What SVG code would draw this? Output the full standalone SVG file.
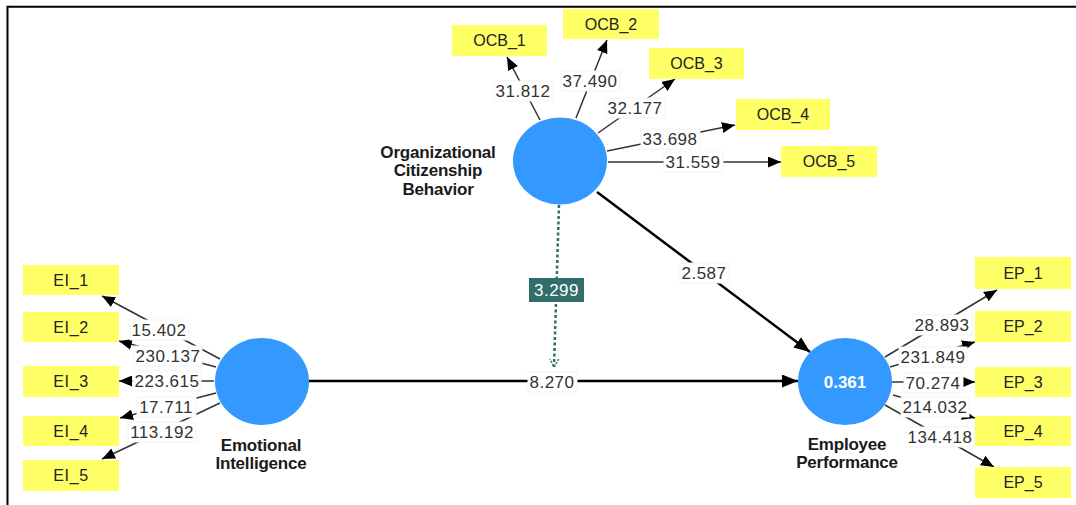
<svg xmlns="http://www.w3.org/2000/svg" width="1076" height="505" viewBox="0 0 1076 505">
<style>
.box{fill:#ffff66}
.btxt{font-family:"Liberation Sans",Arial,sans-serif;font-size:16px;fill:#222;text-anchor:middle}
.lat{fill:#3399ff}
.ltxt{font-family:"Liberation Sans",Arial,sans-serif;font-size:17px;font-weight:bold;fill:#1a1a1a;text-anchor:middle;letter-spacing:-0.2px}
.ind{stroke:#333;stroke-width:1.5;fill:none;marker-end:url(#a1)}
.str{stroke:#000;stroke-width:2.5;fill:none;marker-end:url(#a2)}
.lbg{fill:#fff;stroke:#f3f3f3;stroke-width:1}
.num{font-family:"Liberation Sans",Arial,sans-serif;font-size:17px;fill:#333;text-anchor:middle;letter-spacing:0.5px}
</style>
<defs>
<marker id="a1" markerUnits="userSpaceOnUse" markerWidth="13" markerHeight="11" refX="13" refY="5.5" orient="auto"><path d="M0,0 L13,5.5 L0,11 z" fill="#000"/></marker>
<marker id="a2" markerUnits="userSpaceOnUse" markerWidth="16" markerHeight="13" refX="16" refY="6.5" orient="auto"><path d="M0,0 L16,6.5 L0,13 z" fill="#000"/></marker>
<marker id="a3" markerUnits="userSpaceOnUse" markerWidth="12" markerHeight="12" refX="10" refY="6" orient="auto"><path d="M2,1.5 L10,6 L2,10.5" fill="none" stroke="#2f6e6a" stroke-width="1.5" stroke-dasharray="2 1.5"/></marker>
</defs>
<rect width="1076" height="505" fill="#fff"/>
<path d="M7.5,505 V6.8 H1076" fill="none" stroke="#000" stroke-width="2"/>

<g id="connectors">
<line class="ind" x1="540" y1="120" x2="507" y2="57"/>
<line class="ind" x1="576" y1="118" x2="607" y2="40"/>
<line class="ind" x1="598" y1="133" x2="675" y2="79"/>
<line class="ind" x1="607" y1="151" x2="735" y2="125"/>
<line class="ind" x1="608" y1="162" x2="781" y2="162"/>
<line class="ind" x1="220" y1="359" x2="102" y2="296"/>
<line class="ind" x1="216" y1="367" x2="119" y2="341"/>
<line class="ind" x1="214" y1="381" x2="119" y2="381"/>
<line class="ind" x1="216" y1="393" x2="120" y2="418"/>
<line class="ind" x1="220" y1="403" x2="102" y2="459"/>
<line class="ind" x1="885" y1="357" x2="997" y2="290"/>
<line class="ind" x1="890" y1="367" x2="975" y2="342"/>
<line class="ind" x1="892" y1="382" x2="975" y2="382"/>
<line class="ind" x1="893" y1="395" x2="975" y2="418"/>
<line class="ind" x1="885" y1="405" x2="994" y2="467"/>
<line class="str" x1="597" y1="192" x2="810" y2="352"/>
<line class="str" x1="309" y1="381" x2="798" y2="381"/>
<line x1="559" y1="205" x2="554" y2="367" stroke="#2f6e6a" stroke-width="2.5" stroke-dasharray="3 2.5" marker-end="url(#a3)"/>

<rect class="lbg" x="494" y="81" width="59" height="20"/><text class="num" x="523" y="97">31.812</text>
<rect class="lbg" x="561" y="71" width="59" height="20"/><text class="num" x="590" y="87">37.490</text>
<rect class="lbg" x="606" y="98" width="59" height="20"/><text class="num" x="635" y="114">32.177</text>
<rect class="lbg" x="641" y="129" width="59" height="20"/><text class="num" x="670" y="145">33.698</text>
<rect class="lbg" x="664" y="152" width="59" height="20"/><text class="num" x="693" y="168">31.559</text>
<rect class="lbg" x="130" y="320" width="59" height="20"/><text class="num" x="159" y="336">15.402</text>
<rect class="lbg" x="134" y="346" width="68" height="20"/><text class="num" x="168" y="362">230.137</text>
<rect class="lbg" x="133" y="371" width="68" height="20"/><text class="num" x="167" y="387">223.615</text>
<rect class="lbg" x="137" y="397" width="59" height="20"/><text class="num" x="166" y="413">17.711</text>
<rect class="lbg" x="128" y="422" width="68" height="20"/><text class="num" x="162" y="438">113.192</text>
<rect class="lbg" x="913" y="315" width="59" height="20"/><text class="num" x="942" y="331">28.893</text>
<rect class="lbg" x="899" y="347" width="68" height="20"/><text class="num" x="933" y="363">231.849</text>
<rect class="lbg" x="904" y="373" width="59" height="20"/><text class="num" x="933" y="389">70.274</text>
<rect class="lbg" x="901" y="397" width="68" height="20"/><text class="num" x="935" y="413">214.032</text>
<rect class="lbg" x="906" y="427" width="68" height="20"/><text class="num" x="940" y="443">134.418</text>
<rect class="lbg" x="680" y="263" width="49" height="20"/><text class="num" x="704" y="279">2.587</text>
<rect class="lbg" x="528" y="372" width="49" height="20"/><text class="num" x="552" y="388">8.270</text>
<rect x="529" y="278" width="55" height="24" fill="#2f6e6a"/><text class="num" x="556.5" y="296" style="fill:#fff">3.299</text>
</g>

<g id="OCB">
<ellipse class="lat" cx="560" cy="161" rx="47" ry="43.5"/>
<text class="ltxt" x="438" y="158">Organizational</text>
<text class="ltxt" x="438" y="176">Citizenship</text>
<text class="ltxt" x="438" y="195">Behavior</text>
</g>
<g id="EI">
<ellipse class="lat" cx="262" cy="381.5" rx="47" ry="43.5"/>
<text class="ltxt" x="261" y="451">Emotional</text>
<text class="ltxt" x="261" y="469">Intelligence</text>
</g>
<g id="EP">
<ellipse class="lat" cx="845" cy="381.5" rx="47" ry="43.5"/>
<text x="845" y="388" font-family="Liberation Sans, Arial, sans-serif" font-size="17" font-weight="bold" fill="#fff" text-anchor="middle">0.361</text>
<text class="ltxt" x="847" y="450">Employee</text>
<text class="ltxt" x="847" y="468">Performance</text>
</g>

<g id="OCB_1"><rect class="box" x="452" y="25" width="95" height="31"/><text class="btxt" x="499.5" y="46">OCB_1</text></g>
<g id="OCB_2"><rect class="box" x="563" y="9" width="96" height="30"/><text class="btxt" x="611" y="30">OCB_2</text></g>
<g id="OCB_3"><rect class="box" x="649" y="48" width="95" height="31"/><text class="btxt" x="696.5" y="69">OCB_3</text></g>
<g id="OCB_4"><rect class="box" x="736" y="99" width="94" height="31"/><text class="btxt" x="783" y="120">OCB_4</text></g>
<g id="OCB_5"><rect class="box" x="781" y="146" width="96" height="31"/><text class="btxt" x="829" y="167">OCB_5</text></g>

<g id="EI_1"><rect class="box" x="23" y="265" width="96" height="30"/><text class="btxt" x="71" y="286" style="letter-spacing:0.6px">EI_1</text></g>
<g id="EI_2"><rect class="box" x="23" y="312" width="96" height="30"/><text class="btxt" x="71" y="333" style="letter-spacing:0.6px">EI_2</text></g>
<g id="EI_3"><rect class="box" x="23" y="366" width="96" height="31"/><text class="btxt" x="71" y="387" style="letter-spacing:0.6px">EI_3</text></g>
<g id="EI_4"><rect class="box" x="23" y="416" width="96" height="30"/><text class="btxt" x="71" y="437" style="letter-spacing:0.6px">EI_4</text></g>
<g id="EI_5"><rect class="box" x="23" y="460" width="96" height="31"/><text class="btxt" x="71" y="481" style="letter-spacing:0.6px">EI_5</text></g>

<g id="EP_1"><rect class="box" x="975" y="257" width="96" height="32"/><text class="btxt" x="1023" y="279">EP_1</text></g>
<g id="EP_2"><rect class="box" x="975" y="311" width="96" height="31"/><text class="btxt" x="1023" y="332">EP_2</text></g>
<g id="EP_3"><rect class="box" x="975" y="367" width="96" height="30"/><text class="btxt" x="1023" y="388">EP_3</text></g>
<g id="EP_4"><rect class="box" x="975" y="416" width="96" height="30"/><text class="btxt" x="1023" y="437">EP_4</text></g>
<g id="EP_5"><rect class="box" x="975" y="467" width="96" height="31"/><text class="btxt" x="1023" y="488">EP_5</text></g>
</svg>
